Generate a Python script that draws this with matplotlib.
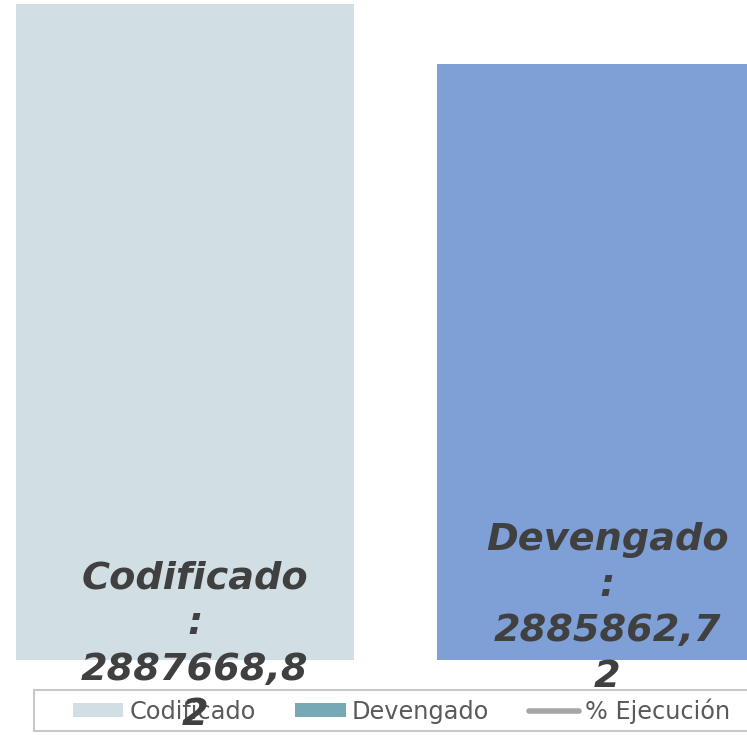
import matplotlib
matplotlib.use("Agg")
import matplotlib.pyplot as plt
from matplotlib.patches import Patch, Rectangle
from matplotlib.lines import Line2D

# data
categorias = ["Codificado", "Devengado"]
valores = [2887668.82, 2885862.72]
etiquetas = ["Codificado\n:\n2887668,8\n2", "Devengado\n:\n2885862,7\n2"]
colores_barra = ["#d1dfe4", "#7f9fd7"]
serie_legenda = ["Codificado", "Devengado", "% Ejecución"]
colores_legenda = ["#d1dfe4", "#77a8b6", "#a6a6a6"]

W, H = 747, 735
fig = plt.figure(figsize=(W / 100, H / 100), dpi=100)
ax = fig.add_axes([16 / W, 75 / H, (W - 16) / W, 656 / H])
ax.patch.set_alpha(0)

x = list(range(len(categorias)))
ax.bar(x, valores, width=0.803, color=colores_barra)
ax.set_xlim(-0.4015, 1.335)
ax.set_ylim(2867920, valores[0])

# label offsets from bar top, in points
offs = [-463, -392]
dx = [7, 1]
for i, v in enumerate(valores):
    ax.annotate(etiquetas[i], (x[i], v), xytext=(dx[i], offs[i]),
                textcoords="offset points", ha="center", va="center",
                fontsize=27.5, fontweight="bold", fontstyle="italic",
                color="#404040", linespacing=1.34, annotation_clip=False,
                zorder=10)

for s in ax.spines.values():
    s.set_visible(False)
ax.set_xticks([])
ax.set_yticks([])

# legend frame (runs past the right edge like the original)
fig.add_artist(Rectangle((34 / W, 4 / H), 760 / W, 41 / H, transform=fig.transFigure,
                         facecolor="white", edgecolor="#c8c8c8", lw=1.5,
                         zorder=-2, clip_on=False))

handles = [
    Patch(facecolor=colores_legenda[0]),
    Patch(facecolor=colores_legenda[1]),
    Line2D([0], [0], color=colores_legenda[2], lw=4, solid_capstyle="round"),
]
leg = fig.legend(handles, serie_legenda, loc="center left",
                 bbox_to_anchor=(73 / W, 24 / H), ncol=3, frameon=False,
                 fontsize=17.3, labelcolor="#595959", handlelength=2.1,
                 handleheight=0.55, handletextpad=0.25, columnspacing=1.65,
                 borderpad=0, borderaxespad=0)
leg.set_zorder(-1)

fig.savefig("out.png", dpi=100)
